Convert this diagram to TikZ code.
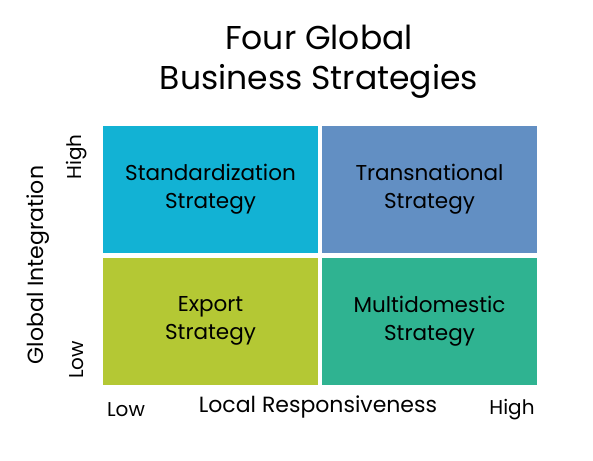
\documentclass[tikz,border=0pt]{standalone}
\usepackage{fontspec}
\setmainfont{Poppins}
\usepackage{tikz}
\usetikzlibrary{positioning}
\definecolor{stdcyan}{HTML}{12B2D4}
\definecolor{transblue}{HTML}{628FC3}
\definecolor{exportlime}{HTML}{B4C834}
\definecolor{multigreen}{HTML}{2FB391}

\begin{document}
\begin{tikzpicture}[x=1pt, y=-1pt,
    quad/.style={rectangle, inner sep=0pt, minimum width=215pt,
                 minimum height=127pt, align=center,
                 font=\fontsize{21.5}{28}\selectfont},
    title/.style={align=center, font=\fontsize{33}{40}\selectfont},
    axis/.style={font=\fontsize{22}{26}\selectfont},
    tick/.style={font=\fontsize{20}{24}\selectfont}
  ]
    \useasboundingbox (0,0) rectangle (593,460);

    % Title
    \node[title] (title) at (319, 62) {Four Global\\Business Strategies};

    % Quadrants
    \node[quad, fill=stdcyan] (std) at (210.5, 189.5)
      {Standardization\\Strategy};
    \node[quad, fill=transblue] (trans) at (429.5, 189.5)
      {Transnational\\Strategy};
    \node[quad, fill=exportlime] (export) at (210.5, 321)
      {Export\\Strategy};
    \node[quad, fill=multigreen] (multi) at (429.5, 321)
      {Multidomestic\\Strategy};

    % Vertical axis
    \node[axis, rotate=90] (yaxis) at (38, 265) {Global Integration};
    \node[tick, rotate=90] (yhigh) at (77, 157) {High};
    \node[tick, rotate=90] (ylow) at (77, 360) {Low};

    % Horizontal axis
    \node[axis] (xaxis) at (318, 407) {Local Responsiveness};
    \node[tick] (xlow) at (126, 410) {Low};
    \node[tick] (xhigh) at (512, 410) {High};
  \end{tikzpicture}
\end{document}
